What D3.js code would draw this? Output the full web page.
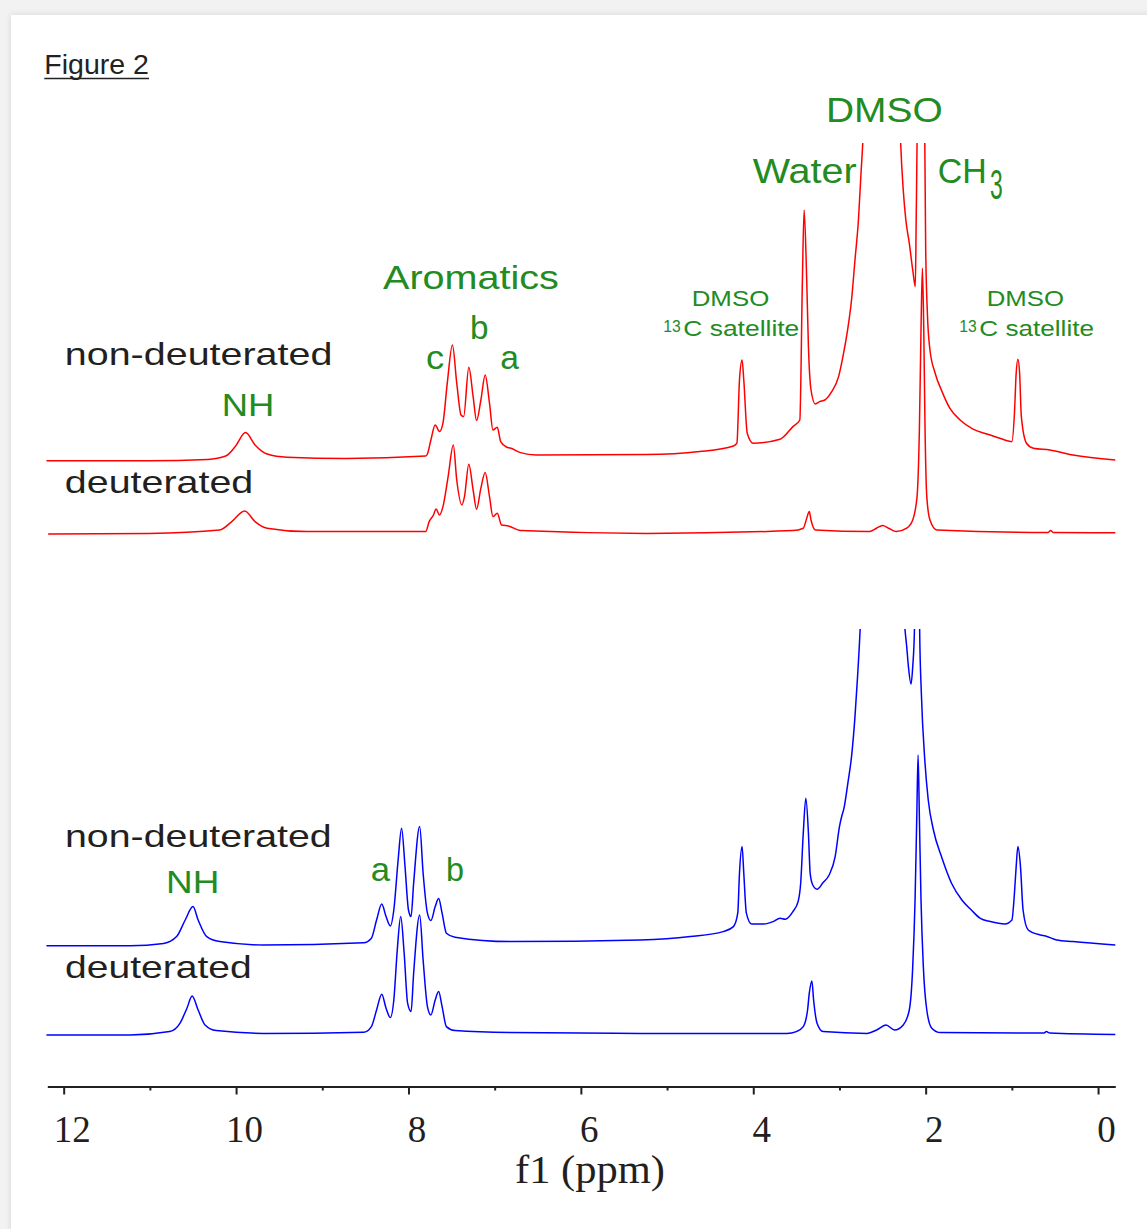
<!DOCTYPE html>
<html>
<head>
<meta charset="utf-8">
<script src="https://cdn.jsdelivr.net/npm/d3@7"></script>
<style>
  body { margin: 0; background: #f2f2f2; }
  svg { display: block; }
</style>
</head>
<body>
<script>
// 1H NMR spectra, [ppm, intensity (a.u.)]
// red = upper sample, blue = lower sample; big DMSO / CH3 peaks run off scale
var redNonDeut = [[12.20,-1.4],[11.01,-1.4],[10.33,-0.7],[10.12,1.0],[10.01,5.7],[9.89,12.7],[9.78,6.5],[9.64,2.0],[9.41,0.4],[8.72,-0.2],
  [7.80,1.0],[7.78,2.0],[7.74,9.0],[7.69,16.5],[7.64,13.2],[7.60,17.4],[7.55,37.4],[7.49,56.5],[7.44,37.4],[7.39,21.5],[7.36,20.7],
  [7.30,45.4],[7.25,30.7],[7.21,18.7],[7.16,29.0],[7.11,41.5],[7.06,27.4],[7.02,14.0],[6.97,15.4],[6.93,8.2],[6.86,5.4],[6.82,5.0],
  [6.70,2.7],[6.52,1.5],[5.24,1.7],[4.62,3.2],[4.23,6.0],[4.19,7.4],[4.16,39.0],[4.13,49.0],[4.11,39.0],[4.07,12.4],[4.00,7.4],
  [3.69,9.4],[3.54,15.7],[3.46,19.0],[3.43,89.0],[3.41,124.0],[3.38,89.0],[3.36,55.7],[3.33,34.0],[3.28,27.0],[3.23,28.2],[3.17,29.0],
  [3.09,33.2],[3.01,40.7],[2.96,50.7],[2.90,65.7],[2.86,79.0],[2.82,99.0],[2.78,119.0],[2.75,142.4],[2.73,157.4],[2.68,220],[2.60,450],
  [2.50,900],[2.40,450],[2.33,220],[2.29,157.4],[2.26,134.0],[2.23,119.0],[2.19,107.4],[2.15,94.0],[2.12,85.7],[2.11,119.0],[2.10,157.4],
  [2.05,700],[2.01,157.4],[2.00,105.7],[1.98,72.4],[1.95,54.0],[1.89,42.4],[1.81,33.2],[1.72,24.9],[1.60,19.0],[1.45,14.4],[1.29,12.0],
  [1.14,9.9],[1.00,8.2],[0.97,22.4],[0.95,42.4],[0.93,49.4],[0.91,42.4],[0.89,20.7],[0.83,7.4],[0.75,4.9],[0.56,4.0],[0.29,1.5],[-0.20,-1.0]];

var redDeut = [[12.18,-1.0],[11.01,-0.7],[10.19,1.0],[10.05,5.2],[9.90,10.5],[9.78,5.2],[9.64,1.9],[9.18,0.2],[7.80,0.2],[7.76,5.2],
  [7.71,8.5],[7.68,11.5],[7.64,8.5],[7.60,12.7],[7.54,27.7],[7.48,43.5],[7.44,26.0],[7.38,13.5],[7.35,17.7],[7.30,33.9],[7.25,21.0],
  [7.21,11.4],[7.16,21.9],[7.11,29.7],[7.06,17.7],[7.02,7.7],[6.97,9.4],[6.92,3.5],[6.84,3.0],[6.70,0.7],[5.24,-0.7],[3.54,0.7],
  [3.42,1.9],[3.38,6.9],[3.35,10.2],[3.33,6.0],[3.28,1.0],[2.65,0.2],[2.57,1.9],[2.50,3.2],[2.43,1.9],[2.34,0.2],[2.22,1.9],[2.15,6.0],
  [2.10,17.7],[2.073,51.0],[2.054,101.0],[2.038,131.9],[2.022,101.0],[2.007,51.0],[1.987,17.7],[1.95,6.0],[1.87,1.0],[0.58,-0.2],
  [0.55,0.7],[0.52,-0.2],[-0.20,-0.4]];

var blueNonDeut = [[12.20,-1.9],[11.23,-1.9],[10.84,-0.7],[10.69,2.7],[10.59,11.0],[10.50,17.7],[10.44,11.0],[10.34,2.7],[10.19,0.2],
  [9.68,-1.5],[8.52,-0.4],[8.43,1.9],[8.37,11.0],[8.31,19.0],[8.26,12.7],[8.21,8.0],[8.17,16.0],[8.12,41.0],[8.08,56.9],[8.04,37.7],
  [8.00,16.0],[7.97,12.7],[7.94,29.4],[7.87,57.7],[7.83,34.4],[7.78,14.4],[7.74,10.7],[7.69,17.7],[7.65,21.7],[7.61,14.4],[7.56,4.4],
  [7.46,2.4],[6.82,0.2],[5.31,1.0],[4.73,2.7],[4.35,5.2],[4.23,7.7],[4.18,14.4],[4.16,34.4],[4.13,47.7],[4.11,34.4],[4.08,14.4],
  [4.02,9.0],[3.88,9.0],[3.77,10.2],[3.69,11.9],[3.63,11.4],[3.54,15.2],[3.48,20.2],[3.45,29.4],[3.42,54.4],[3.39,71.9],[3.36,54.4],
  [3.34,34.4],[3.31,28.5],[3.26,26.4],[3.19,29.7],[3.12,33.5],[3.05,42.7],[3.00,57.7],[2.97,63.5],[2.95,66.4],[2.90,80.2],[2.86,92.7],
  [2.82,112.7],[2.79,132.7],[2.76,156.4],[2.70,230],[2.60,450],[2.50,900],[2.40,450],[2.33,230],[2.24,156.4],[2.22,147.7],[2.20,137.7],
  [2.17,129.0],[2.15,137.7],[2.13,156.4],[2.09,600],[2.07,156.4],[2.05,124.4],[2.01,91.0],[1.97,71.0],[1.91,56.0],[1.81,41.9],
  [1.70,29.4],[1.58,21.0],[1.47,16.0],[1.37,11.9],[1.25,10.2],[1.08,9.0],[1.00,11.0],[0.97,24.4],[0.95,37.7],[0.93,47.7],[0.90,37.7],
  [0.87,16.0],[0.81,6.0],[0.67,3.5],[0.61,3.0],[0.48,1.0],[0.29,0.2],[-0.20,-1.5]];

var blueDeut = [[12.20,-1.0],[11.23,-1.0],[10.77,0.7],[10.65,4.9],[10.57,12.4],[10.51,18.5],[10.44,11.5],[10.36,4.0],[10.23,1.2],
  [9.68,-0.2],[8.52,0.4],[8.43,3.2],[8.37,11.5],[8.31,19.4],[8.26,12.4],[8.21,7.7],[8.17,16.5],[8.13,41.5],[8.09,58.2],[8.05,39.9],
  [8.01,14.9],[7.97,10.7],[7.94,29.9],[7.87,59.0],[7.83,36.5],[7.78,13.2],[7.74,9.0],[7.69,16.5],[7.65,20.7],[7.61,13.2],[7.56,3.2],
  [7.46,1.2],[6.82,0.2],[5.31,-0.2],[3.61,-0.2],[3.50,0.7],[3.42,3.2],[3.37,11.5],[3.35,19.9],[3.32,26.0],[3.30,16.5],[3.26,4.9],
  [3.19,0.7],[2.68,-0.2],[2.57,1.5],[2.46,4.0],[2.36,1.5],[2.26,4.0],[2.19,11.5],[2.150,33.2],[2.123,66.5],[2.103,108.2],[2.088,139.0],
  [2.073,108.2],[2.054,66.5],[2.027,33.2],[1.987,11.5],[1.929,2.4],[1.83,0.2],[0.63,0],[0.60,0.7],[0.56,0],[-0.20,-0.7]];

var majorTicks = [12, 10, 8, 6, 4, 2, 0];
var minorTicks = [11, 9, 7, 5, 3, 1];
var xTitle = "f1 (ppm)";

var w = 1147, h = 1229;
var green = "#228b22", ink = "#231f20";

var svg = d3.select("body").append("svg")
  .attr("width", w)
  .attr("height", h);

// card with soft shadow
var defs = svg.append("defs");
defs.append("filter").attr("id", "shadow").attr("x", "-5%").attr("y", "-5%").attr("width", "110%").attr("height", "110%")
  .append("feDropShadow").attr("dx", 0).attr("dy", 0).attr("stdDeviation", 3)
  .attr("flood-color", "#000").attr("flood-opacity", 0.12);
svg.append("rect").attr("x", 11).attr("y", 15).attr("width", w + 20).attr("height", h + 20)
  .attr("fill", "#fff").attr("filter", "url(#shadow)");

// scales
var x = d3.scaleLinear().domain([12.19, -0.2]).range([47.3, 1115.3]);
var hgt = d3.scaleLinear().domain([0, 100]).range([0, -200]);

// stacked traces: baseline and clip top of each panel
var traces = [
  { data: redNonDeut, base: 458, color: "#ff0000", clip: "clipRed" },
  { data: redDeut, base: 532, color: "#ff0000", clip: "clipRed" },
  { data: blueNonDeut, base: 942, color: "#0000ff", clip: "clipBlue" },
  { data: blueDeut, base: 1033, color: "#0000ff", clip: "clipBlue" }
];
defs.append("clipPath").attr("id", "clipRed").append("rect")
  .attr("x", 40).attr("y", 143).attr("width", 1080).attr("height", 460);
defs.append("clipPath").attr("id", "clipBlue").append("rect")
  .attr("x", 40).attr("y", 629).attr("width", 1080).attr("height", 450);

traces.forEach(function(t) {
  var line = d3.line()
    .x(function(d) { return x(d[0]); })
    .y(function(d) { return t.base + hgt(d[1]); })
    .curve(d3.curveMonotoneX);
  svg.append("g").attr("clip-path", "url(#" + t.clip + ")")
    .append("path")
    .datum(t.data)
    .attr("d", line)
    .attr("fill", "none")
    .attr("stroke", t.color)
    .attr("stroke-width", 1.5)
    .attr("stroke-linejoin", "round");
});

// x axis
var axisY = 1086.5;
var minor = svg.append("g").attr("transform", "translate(0," + axisY + ")")
  .call(d3.axisBottom(x).tickValues(minorTicks).tickSize(4).tickSizeOuter(0).tickFormat(""));
minor.select(".domain").remove();
minor.selectAll("line").attr("stroke", ink).attr("stroke-width", 2);

var axis = svg.append("g").attr("transform", "translate(0," + axisY + ")")
  .call(d3.axisBottom(x).tickValues(majorTicks).tickSize(8).tickSizeOuter(0).tickFormat(d3.format("d")));
axis.select(".domain").attr("stroke", ink).attr("stroke-width", 2);
axis.selectAll("line").attr("stroke", ink).attr("stroke-width", 2);
axis.selectAll("text")
  .attr("y", 55.5).attr("dy", 0).attr("dx", 8)
  .attr("fill", ink)
  .style("font-family", "'Liberation Serif', 'Times New Roman', serif")
  .style("font-size", "37px");

function label(text, lx, ly, size, len, color) {
  return svg.append("text")
    .attr("x", lx).attr("y", ly)
    .attr("textLength", len).attr("lengthAdjust", "spacingAndGlyphs")
    .attr("fill", color)
    .style("font-family", "'Liberation Sans', Arial, sans-serif")
    .style("font-size", size + "px")
    .text(text);
}

svg.append("text")
  .attr("x", 515).attr("y", 1182.7)
  .attr("textLength", 150).attr("lengthAdjust", "spacingAndGlyphs")
  .attr("fill", ink)
  .style("font-family", "'Liberation Serif', 'Times New Roman', serif")
  .style("font-size", "40px")
  .text(xTitle);

// title
label("Figure 2", 44.3, 74, 28.5, 104.7, "#222");
svg.append("line").attr("x1", 44.3).attr("x2", 149).attr("y1", 78.5).attr("y2", 78.5)
  .attr("stroke", "#222").attr("stroke-width", 1.4);

// sample labels
label("non-deuterated", 64.8, 365, 32, 267.6, ink);
label("deuterated", 64.8, 493.3, 32, 188.5, ink);
label("non-deuterated", 65, 846.7, 32, 266.7, ink);
label("deuterated", 65, 978.3, 32, 186.7, ink);

// peak annotations
label("Aromatics", 383, 289.3, 32.5, 175.9, green);
label("b", 470, 339.3, 33, 18.5, green);
label("c", 426, 369.3, 33, 18.2, green);
label("a", 500.3, 369.3, 33, 18.7, green);
label("NH", 221.7, 415.7, 32, 52.6, green);
label("DMSO", 826, 121.7, 35, 116.7, green);
label("Water", 752.7, 182.7, 35, 104, green);
label("CH", 937.7, 182.7, 35, 49, green);
label("3", 990, 199.3, 42, 12.7, green);
label("DMSO", 691.7, 305.7, 22.5, 77.6, green);
label("13", 663.3, 331.6, 17, 17.4, green);
label("C satellite", 683.3, 336, 21.5, 116, green);
label("DMSO", 986.7, 305.7, 22.5, 77.3, green);
label("13", 959.3, 331.6, 17, 17.4, green);
label("C satellite", 979.3, 336, 21.5, 114.7, green);
label("NH", 166, 892.7, 31, 53.3, green);
label("a", 370.7, 881, 33, 19.3, green);
label("b", 446, 881, 33, 18, green);
</script>
</body>
</html>
